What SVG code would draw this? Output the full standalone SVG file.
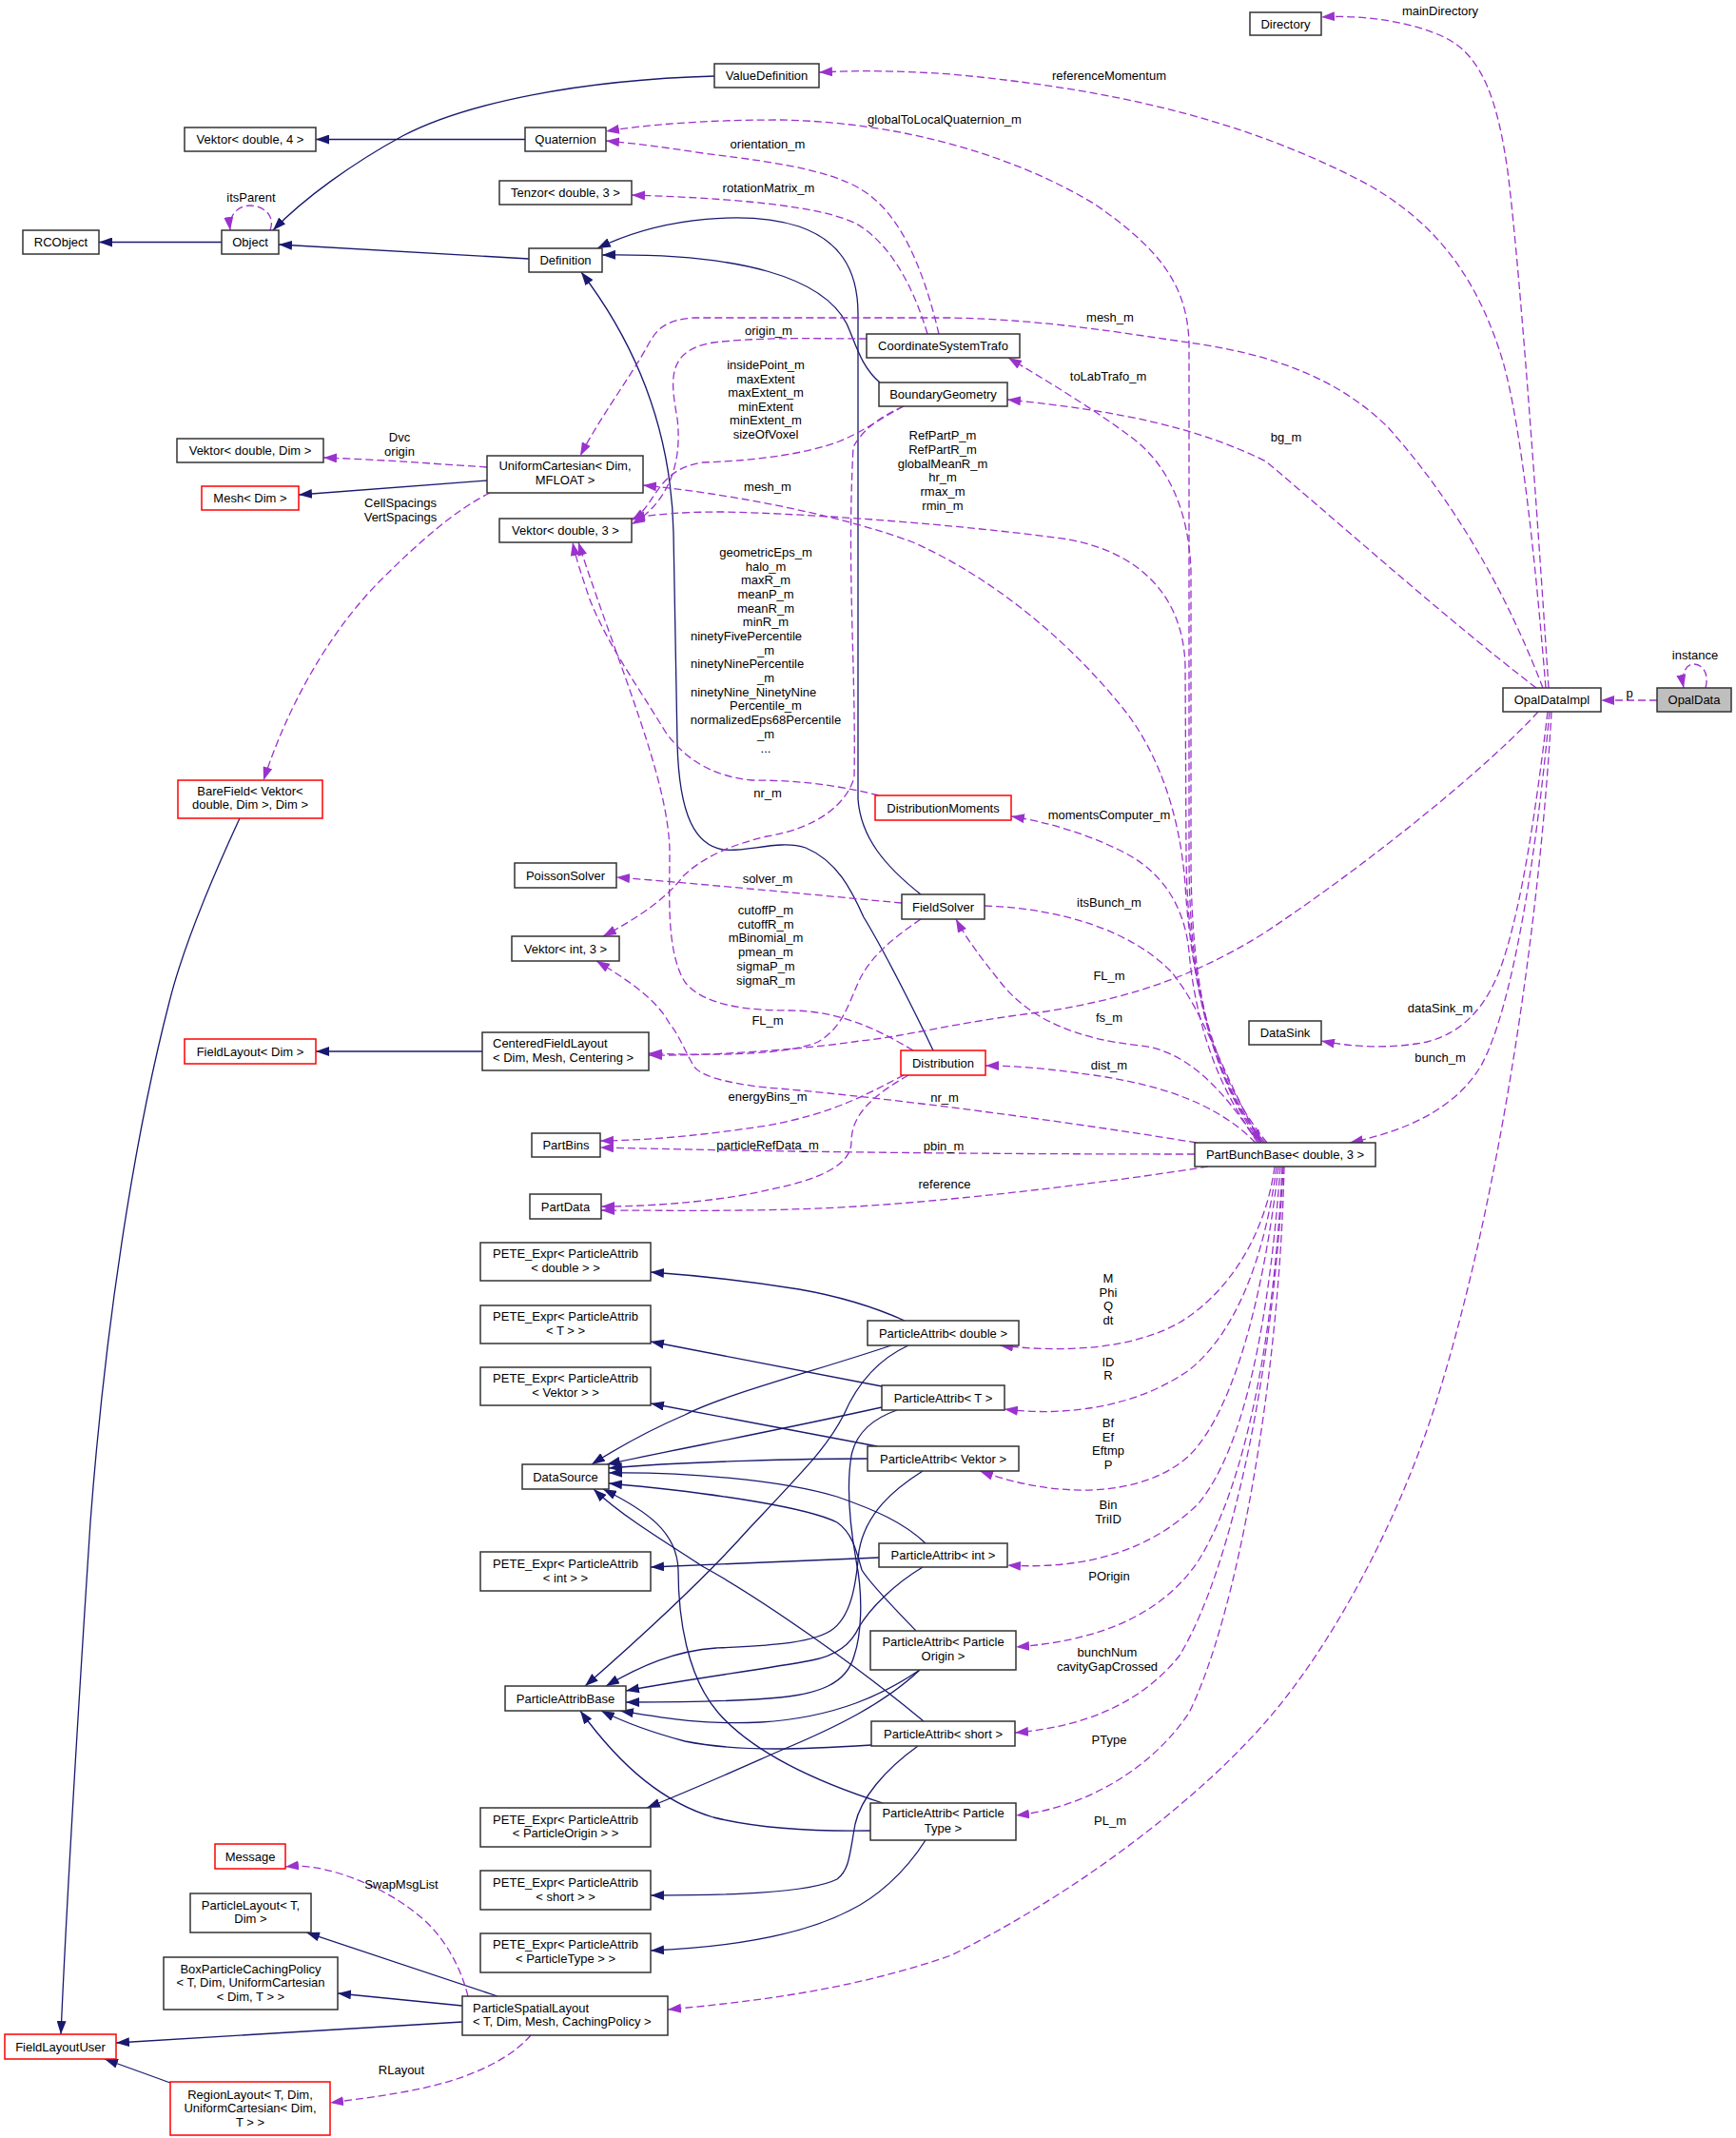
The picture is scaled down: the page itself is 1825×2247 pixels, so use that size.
<svg xmlns="http://www.w3.org/2000/svg" width="1825" height="2247" viewBox="0 0 1825 2247">
<style>
.n rect{fill:#fff;stroke:#333;stroke-width:1.5}
.n.r rect{stroke:#ff0000}
.n.g rect{fill:#bfbfbf}
text{font-family:"Liberation Sans",Arial,Helvetica,sans-serif;font-size:13px;fill:#000}
.c{text-anchor:middle}
.s{text-anchor:start}
.i{fill:none;stroke:#191970;stroke-width:1.3;marker-end:url(#an)}
.u{fill:none;stroke:#9a32cd;stroke-width:1.3;stroke-dasharray:8,4;marker-end:url(#ap)}
</style>
<defs>
<marker id="an" markerUnits="userSpaceOnUse" viewBox="0 0 14 10" markerWidth="14" markerHeight="10" refX="14" refY="5" orient="auto"><path d="M0,0 L14,5 L0,10 z" fill="#191970"/></marker>
<marker id="ap" markerUnits="userSpaceOnUse" viewBox="0 0 14 10" markerWidth="14" markerHeight="10" refX="14" refY="5" orient="auto"><path d="M0,0 L14,5 L0,10 z" fill="#9a32cd"/></marker>
</defs>
<rect width="1825" height="2247" fill="#fff"/>
<g id="edges">
<path class="i" d="M233,254.5 L104,254.5"/>
<path class="i" d="M751,80 C610,84 490,108 423,143 C370,172 320,208 287,242"/>
<path class="i" d="M552,146.5 L332,146.5"/>
<path class="i" d="M556,272 L293,257"/>
<path class="i" d="M925,402 C905,385 900,362 890,340 C865,292 780,266 633,268"/>
<path class="i" d="M968,940 C930,910 905,880 902,840 L902,330 C902,280 880,252 840,238 C790,222 700,226 628,261"/>
<path class="i" d="M981,1104 C965,1070 930,1000 908,964 C895,935 880,905 847,891 C820,882 785,896 760,893 C732,888 714,860 712,781 L708,560 C706,460 675,370 611,286"/>
<path class="i" d="M512,505 L314,520"/>
<path class="i" d="M507,1105 L332,1105"/>
<path class="i" d="M252,860 C215,940 190,1005 178,1053 C140,1200 110,1400 95,1600 C82,1800 70,2000 64,2138"/>
<path class="i" d="M951,1388 C920,1374 880,1362 840,1355 C790,1347 740,1341 684,1337"/>
<path class="i" d="M927,1457 L684,1410"/>
<path class="i" d="M922,1520 L684,1475"/>
<path class="i" d="M924,1637 L684,1647"/>
<path class="i" d="M967,1755 C930,1790 880,1815 820,1840 C770,1862 730,1880 680,1900"/>
<path class="i" d="M965,1835 C930,1860 905,1890 899,1917 C893,1950 893,1965 880,1975 C850,1990 760,1992 684,1992"/>
<path class="i" d="M973,1934 C950,1970 920,1995 893,2008 C860,2025 800,2045 684,2050"/>
<path class="i" d="M937,1414 C860,1440 760,1466 720,1487 C685,1502 655,1518 622,1539"/>
<path class="i" d="M927,1479 C850,1496 780,1510 740,1518 C700,1526 670,1532 638,1539"/>
<path class="i" d="M912,1533 C850,1533 720,1536 640,1543"/>
<path class="i" d="M973,1622 C950,1600 920,1587 880,1573 C820,1555 720,1547 640,1548"/>
<path class="i" d="M963,1714 C940,1690 915,1665 906,1650 C900,1628 895,1610 880,1600 C850,1585 760,1570 640,1559"/>
<path class="i" d="M971,1809 C900,1750 800,1680 740,1647 C690,1615 650,1590 624,1565"/>
<path class="i" d="M928,1895 C850,1870 790,1840 755,1800 C722,1762 713,1700 713,1650 C712,1610 680,1588 634,1565"/>
<path class="i" d="M955,1414 C920,1430 900,1457 887,1487 C870,1520 850,1540 787,1607 C740,1660 680,1715 615,1772"/>
<path class="i" d="M970,1546 C940,1565 910,1590 903,1630 C900,1665 895,1700 873,1714 C850,1728 800,1730 753,1732 C710,1735 675,1750 637,1772"/>
<path class="i" d="M970,1647 C940,1665 915,1690 903,1710 C895,1728 880,1740 853,1745 C800,1755 720,1765 658,1777"/>
<path class="i" d="M943,1482 C920,1490 900,1505 895,1530 C890,1560 893,1600 900,1640 C908,1680 905,1720 898,1740 C890,1770 860,1780 820,1784 C780,1788 720,1789 658,1789"/>
<path class="i" d="M967,1755 C930,1780 880,1805 800,1810 C740,1813 700,1806 652,1798"/>
<path class="i" d="M916,1834 C850,1838 780,1842 720,1830 C690,1822 660,1812 632,1798"/>
<path class="i" d="M915,1924 C850,1925 790,1920 750,1910 C700,1895 655,1860 610,1798"/>
<path class="i" d="M523,2098 L322,2031"/>
<path class="i" d="M486,2108 L355,2095"/>
<path class="i" d="M486,2125 L122,2147"/>
<path class="i" d="M179,2189 L110,2164"/>

<path class="u" d="M284,242 C290,226 276,216 263,216 C250,216 240,226 242,242"/>
<path class="u" d="M1793,723 C1797,708 1790,698 1781,698 C1772,698 1767,708 1770,723"/>
<path class="u" d="M1742,736 L1683,736"/>
<path class="u" d="M1628,723 C1620,600 1600,300 1585,180 C1575,110 1560,60 1520,40 C1490,25 1440,15 1389,18"/>
<path class="u" d="M1625,723 C1615,600 1600,450 1580,380 C1550,280 1500,230 1440,195 C1300,120 1150,92 1000,78 C940,74 900,74 861,76"/>
<path class="u" d="M1622,723 C1590,640 1540,540 1460,450 C1400,390 1320,370 1250,360 C1180,350 1100,336 1000,334 L730,334 C700,336 690,345 680,365 C660,400 630,440 610,479"/>
<path class="u" d="M1615,723 C1520,650 1420,560 1331,485 C1260,450 1180,432 1059,420"/>
<path class="u" d="M1617,748 C1570,800 1450,900 1330,980 C1250,1030 1180,1050 1100,1063 C1000,1075 950,1090 903,1094 C870,1100 760,1110 682,1109"/>
<path class="u" d="M1627,748 C1615,850 1600,950 1580,1010 C1565,1055 1540,1085 1500,1095 C1460,1103 1420,1100 1389,1094"/>
<path class="u" d="M1629,748 C1615,900 1590,1060 1557,1120 C1530,1165 1480,1188 1419,1201"/>
<path class="u" d="M1631,748 C1620,950 1580,1250 1510,1473 C1470,1600 1400,1730 1332,1808 C1270,1880 1150,1980 1000,2055 C900,2090 800,2103 702,2112"/>
<path class="u" d="M1330,1201 C1262,1120 1250,1000 1250,900 L1250,360 C1248,300 1220,262 1150,214 C1060,160 940,128 820,126 C740,126 680,131 637,138"/>
<path class="u" d="M987,351 C975,300 955,240 920,210 C890,182 830,172 739,161 C700,155 670,151 637,148"/>
<path class="u" d="M975,351 C960,300 935,255 900,235 C860,215 760,208 664,205"/>
<path class="u" d="M911,356 C860,356 800,354 750,360 C700,368 705,400 712,440 C718,490 700,530 664,551"/>
<path class="u" d="M950,427 C925,440 905,455 882,464 C850,476 800,484 739,486 C710,490 698,505 688,520 C680,532 675,540 664,547"/>
<path class="u" d="M1328,1201 C1262,1120 1252,1000 1252,900 L1252,600 C1250,540 1230,490 1190,460 C1150,430 1100,400 1060,376"/>
<path class="u" d="M1332,1201 C1265,1120 1248,1000 1247,900 L1246,700 C1244,620 1190,575 1110,565 C1010,552 860,540 760,538 C720,538 690,540 664,545"/>
<path class="u" d="M1326,1201 C1268,1130 1250,1000 1246,930 C1240,850 1215,790 1185,750 C1130,680 1050,610 960,570 C880,540 760,518 676,510"/>
<path class="u" d="M1324,1201 C1275,1140 1255,1060 1250,1000 C1245,950 1220,915 1180,895 C1140,875 1100,864 1063,858"/>
<path class="u" d="M1035,952 C1120,955 1190,980 1230,1020 C1265,1060 1285,1130 1326,1201"/>
<path class="u" d="M1322,1201 C1290,1150 1250,1105 1200,1099 C1130,1092 1080,1070 1050,1030 C1030,1005 1015,985 1005,966"/>
<path class="u" d="M1258,1201 C1100,1175 900,1150 806,1143 C760,1138 735,1130 729,1120 C718,1100 712,1085 704,1076 C690,1050 660,1030 627,1010"/>
<path class="u" d="M1320,1201 C1280,1160 1220,1140 1150,1130 C1100,1123 1070,1120 1036,1120"/>
<path class="u" d="M1256,1213 C1000,1213 800,1210 631,1206"/>
<path class="u" d="M1270,1226 C1150,1245 1000,1262 900,1268 C800,1274 700,1272 632,1272"/>
<path class="u" d="M950,1130 C920,1145 880,1170 806,1183 C740,1193 690,1198 631,1199"/>
<path class="u" d="M955,1130 C920,1150 895,1170 895,1200 C895,1225 860,1240 810,1250 C770,1260 700,1268 632,1268"/>
<path class="u" d="M948,949 C850,940 750,930 648,922"/>
<path class="u" d="M968,966 C940,985 915,1005 903,1031 C890,1060 885,1080 860,1095 C830,1108 760,1110 682,1107"/>
<path class="u" d="M950,427 C920,440 905,455 897,470 C890,600 900,700 898,817 C890,845 860,870 806,879 C760,890 735,905 719,920 C700,945 670,965 634,984"/>
<path class="u" d="M924,836 C880,825 840,820 790,820 C740,815 715,790 700,770 C670,720 640,680 620,630 C610,600 605,585 602,570"/>
<path class="u" d="M960,1104 C920,1080 880,1062 830,1062 C790,1062 740,1058 720,1032 C700,1000 704,940 704,897 C704,820 650,700 608,570"/>
<path class="u" d="M512,491 C450,487 400,483 340,481"/>
<path class="u" d="M515,518 C480,535 440,570 400,610 C360,650 310,720 277,820"/>
<path class="u" d="M1340,1226 C1330,1300 1290,1360 1240,1390 C1190,1418 1120,1422 1051,1414"/>
<path class="u" d="M1342,1226 C1330,1320 1300,1400 1250,1440 C1200,1475 1130,1490 1056,1481"/>
<path class="u" d="M1344,1226 C1330,1350 1300,1480 1250,1530 C1200,1575 1110,1575 1030,1546"/>
<path class="u" d="M1346,1226 C1335,1380 1310,1520 1260,1580 C1210,1630 1140,1650 1059,1645"/>
<path class="u" d="M1348,1226 C1340,1400 1310,1560 1260,1640 C1220,1700 1150,1725 1068,1731"/>
<path class="u" d="M1349,1226 C1340,1420 1300,1640 1240,1740 C1200,1790 1140,1815 1067,1821"/>
<path class="u" d="M1350,1226 C1345,1450 1300,1700 1250,1800 C1210,1860 1140,1900 1068,1908"/>
<path class="u" d="M492,2098 C485,2070 470,2040 446,2018 C420,1995 390,1980 360,1970 C335,1962 318,1960 300,1962"/>
<path class="u" d="M558,2139 C540,2160 510,2175 480,2185 C440,2198 400,2203 347,2210"/>

<text class="c" x="264" y="212">itsParent</text>
<text class="c" x="1782" y="693">instance</text>
<text class="c" x="1713" y="733">p</text>
<text class="c" x="1514" y="16">mainDirectory</text>
<text class="c" x="1166" y="84">referenceMomentum</text>
<text class="c" x="993" y="130">globalToLocalQuaternion_m</text>
<text class="c" x="807" y="156">orientation_m</text>
<text class="c" x="808" y="202">rotationMatrix_m</text>
<text class="c" x="1167" y="338">mesh_m</text>
<text class="c" x="808" y="352">origin_m</text>
<text class="c" x="805" y="388"><tspan x="805">insidePoint_m</tspan><tspan x="805" dy="14.6">maxExtent</tspan><tspan x="805" dy="14.6">maxExtent_m</tspan><tspan x="805" dy="14.6">minExtent</tspan><tspan x="805" dy="14.6">minExtent_m</tspan><tspan x="805" dy="14.6">sizeOfVoxel</tspan></text>
<text class="c" x="1165" y="400">toLabTrafo_m</text>
<text class="c" x="1352" y="464">bg_m</text>
<text class="c" x="991" y="462"><tspan x="991">RefPartP_m</tspan><tspan x="991" dy="14.8">RefPartR_m</tspan><tspan x="991" dy="14.8">globalMeanR_m</tspan><tspan x="991" dy="14.8">hr_m</tspan><tspan x="991" dy="14.8">rmax_m</tspan><tspan x="991" dy="14.8">rmin_m</tspan></text>
<text class="c" x="420" y="464"><tspan x="420">Dvc</tspan><tspan x="420" dy="14.5">origin</tspan></text>
<text class="c" x="807" y="516">mesh_m</text>
<text class="c" x="421" y="533"><tspan x="421">CellSpacings</tspan><tspan x="421" dy="15">VertSpacings</tspan></text>
<text class="c" x="805" y="585">geometricEps_m</text>
<text class="c" x="805" y="600">halo_m</text>
<text class="c" x="805" y="614">maxR_m</text>
<text class="c" x="805" y="629">meanP_m</text>
<text class="c" x="805" y="644">meanR_m</text>
<text class="c" x="805" y="658">minR_m</text>
<text class="s" x="726" y="673">ninetyFivePercentile</text>
<text class="c" x="805" y="688">_m</text>
<text class="s" x="726" y="702">ninetyNinePercentile</text>
<text class="c" x="805" y="717">_m</text>
<text class="s" x="726" y="732">ninetyNine_NinetyNine</text>
<text class="c" x="805" y="746">Percentile_m</text>
<text class="c" x="805" y="761">normalizedEps68Percentile</text>
<text class="c" x="805" y="776">_m</text>
<text class="c" x="805" y="791">...</text>
<text class="c" x="807" y="838">nr_m</text>
<text class="c" x="1166" y="861">momentsComputer_m</text>
<text class="c" x="807" y="928">solver_m</text>
<text class="c" x="1166" y="953">itsBunch_m</text>
<text class="c" x="805" y="961"><tspan x="805">cutoffP_m</tspan><tspan x="805" dy="14.7">cutoffR_m</tspan><tspan x="805" dy="14.7">mBinomial_m</tspan><tspan x="805" dy="14.7">pmean_m</tspan><tspan x="805" dy="14.7">sigmaP_m</tspan><tspan x="805" dy="14.7">sigmaR_m</tspan></text>
<text class="c" x="1166" y="1030">FL_m</text>
<text class="c" x="1166" y="1074">fs_m</text>
<text class="c" x="807" y="1077">FL_m</text>
<text class="c" x="1514" y="1064">dataSink_m</text>
<text class="c" x="1514" y="1116">bunch_m</text>
<text class="c" x="1166" y="1124">dist_m</text>
<text class="c" x="807" y="1157">energyBins_m</text>
<text class="c" x="993" y="1158">nr_m</text>
<text class="c" x="807" y="1208">particleRefData_m</text>
<text class="c" x="992" y="1209">pbin_m</text>
<text class="c" x="993" y="1249">reference</text>
<text class="c" x="1165" y="1348"><tspan x="1165">M</tspan><tspan x="1165" dy="14.6">Phi</tspan><tspan x="1165" dy="14.6">Q</tspan><tspan x="1165" dy="14.6">dt</tspan></text>
<text class="c" x="1165" y="1436"><tspan x="1165">ID</tspan><tspan x="1165" dy="14.3">R</tspan></text>
<text class="c" x="1165" y="1500"><tspan x="1165">Bf</tspan><tspan x="1165" dy="14.5">Ef</tspan><tspan x="1165" dy="14.5">Eftmp</tspan><tspan x="1165" dy="14.5">P</tspan></text>
<text class="c" x="1165" y="1586"><tspan x="1165">Bin</tspan><tspan x="1165" dy="15">TriID</tspan></text>
<text class="c" x="1166" y="1661">POrigin</text>
<text class="c" x="1164" y="1741"><tspan x="1164">bunchNum</tspan><tspan x="1164" dy="15.3">cavityGapCrossed</tspan></text>
<text class="c" x="1166" y="1833">PType</text>
<text class="c" x="1167" y="1918">PL_m</text>
<text class="c" x="422" y="1985">SwapMsgList</text>
<text class="c" x="422" y="2180">RLayout</text>
</g>

<g id="OpalData" class="n g"><rect x="1742" y="723" width="78" height="25"/><text class="c" x="1781" y="740">OpalData</text></g>
<g id="OpalDataImpl" class="n"><rect x="1580" y="723" width="103" height="25"/><text class="c" x="1631.5" y="740">OpalDataImpl</text></g>
<g id="Directory" class="n"><rect x="1314" y="13" width="75" height="24"/><text class="c" x="1351.5" y="29.5">Directory</text></g>
<g id="ValueDefinition" class="n"><rect x="751" y="67" width="110" height="25"/><text class="c" x="806" y="84">ValueDefinition</text></g>
<g id="VektorDouble4" class="n"><rect x="194" y="134" width="138" height="25"/><text class="c" x="263" y="151">Vektor&lt; double, 4 &gt;</text></g>
<g id="Quaternion" class="n"><rect x="552" y="134" width="85" height="25"/><text class="c" x="594.5" y="151">Quaternion</text></g>
<g id="TenzorDouble3" class="n"><rect x="525" y="190" width="139" height="25"/><text class="c" x="594.5" y="207">Tenzor&lt; double, 3 &gt;</text></g>
<g id="RCObject" class="n"><rect x="24" y="242" width="80" height="25"/><text class="c" x="64" y="259">RCObject</text></g>
<g id="Object" class="n"><rect x="233" y="242" width="60" height="25"/><text class="c" x="263" y="259">Object</text></g>
<g id="Definition" class="n"><rect x="556" y="261" width="77" height="25"/><text class="c" x="594.5" y="278">Definition</text></g>
<g id="CoordinateSystemTrafo" class="n"><rect x="911" y="351" width="161" height="25"/><text class="c" x="991.5" y="368">CoordinateSystemTrafo</text></g>
<g id="BoundaryGeometry" class="n"><rect x="924" y="402" width="135" height="25"/><text class="c" x="991.5" y="419">BoundaryGeometry</text></g>
<g id="VektorDoubleDim" class="n"><rect x="186" y="461" width="154" height="25"/><text class="c" x="263" y="478">Vektor&lt; double, Dim &gt;</text></g>
<g id="UniformCartesian" class="n"><rect x="512" y="479" width="164" height="39"/><text class="c" x="594" y="494">UniformCartesian&lt; Dim,</text><text class="c" x="594" y="509">MFLOAT &gt;</text></g>
<g id="MeshDim" class="n r"><rect x="212" y="511" width="102" height="25"/><text class="c" x="263" y="528">Mesh&lt; Dim &gt;</text></g>
<g id="VektorDouble3" class="n"><rect x="525" y="545" width="139" height="25"/><text class="c" x="594.5" y="562">Vektor&lt; double, 3 &gt;</text></g>
<g id="BareField" class="n r"><rect x="187" y="820" width="152" height="40"/><text class="c" x="263" y="835.5">BareField&lt; Vektor&lt;</text><text class="c" x="263" y="850">double, Dim &gt;, Dim &gt;</text></g>
<g id="DistributionMoments" class="n r"><rect x="920" y="836" width="143" height="26"/><text class="c" x="991.5" y="853.5">DistributionMoments</text></g>
<g id="PoissonSolver" class="n"><rect x="541" y="907" width="107" height="26"/><text class="c" x="594.5" y="924.5">PoissonSolver</text></g>
<g id="FieldSolver" class="n"><rect x="948" y="940" width="87" height="26"/><text class="c" x="991.5" y="957.5">FieldSolver</text></g>
<g id="VektorInt3" class="n"><rect x="538" y="984" width="113" height="26"/><text class="c" x="594.5" y="1001.5">Vektor&lt; int, 3 &gt;</text></g>
<g id="DataSink" class="n"><rect x="1313" y="1073" width="76" height="25"/><text class="c" x="1351" y="1090">DataSink</text></g>
<g id="FieldLayoutDim" class="n r"><rect x="194" y="1092" width="138" height="26"/><text class="c" x="263" y="1109.5">FieldLayout&lt; Dim &gt;</text></g>
<g id="CenteredFieldLayout" class="n"><rect x="507" y="1085" width="175" height="40"/><text class="s" x="518" y="1101">CenteredFieldLayout</text><text class="s" x="518" y="1116">&lt; Dim, Mesh, Centering &gt;</text></g>
<g id="Distribution" class="n r"><rect x="947" y="1104" width="89" height="26"/><text class="c" x="991.5" y="1121.5">Distribution</text></g>
<g id="PartBins" class="n"><rect x="559" y="1191" width="72" height="25"/><text class="c" x="595" y="1208">PartBins</text></g>
<g id="PartBunchBase" class="n"><rect x="1256" y="1201" width="190" height="25"/><text class="c" x="1351" y="1218">PartBunchBase&lt; double, 3 &gt;</text></g>
<g id="PartData" class="n"><rect x="557" y="1255" width="75" height="26"/><text class="c" x="594.5" y="1272.5">PartData</text></g>
<g id="PETE_double" class="n"><rect x="505" y="1306" width="179" height="40"/><text class="c" x="594.5" y="1322">PETE_Expr&lt; ParticleAttrib</text><text class="c" x="594.5" y="1337">&lt; double &gt; &gt;</text></g>
<g id="PA_double" class="n"><rect x="912" y="1388" width="159" height="26"/><text class="c" x="991.5" y="1405.5">ParticleAttrib&lt; double &gt;</text></g>
<g id="PETE_T" class="n"><rect x="505" y="1372" width="179" height="40"/><text class="c" x="594.5" y="1388">PETE_Expr&lt; ParticleAttrib</text><text class="c" x="594.5" y="1402.5">&lt; T &gt; &gt;</text></g>
<g id="PETE_Vektor" class="n"><rect x="505" y="1437" width="179" height="40"/><text class="c" x="594.5" y="1453">PETE_Expr&lt; ParticleAttrib</text><text class="c" x="594.5" y="1468">&lt; Vektor &gt; &gt;</text></g>
<g id="PA_T" class="n"><rect x="927" y="1456" width="129" height="26"/><text class="c" x="991.5" y="1473.5">ParticleAttrib&lt; T &gt;</text></g>
<g id="PA_Vektor" class="n"><rect x="912" y="1520" width="159" height="26"/><text class="c" x="991.5" y="1537.5">ParticleAttrib&lt; Vektor &gt;</text></g>
<g id="DataSource" class="n"><rect x="549" y="1539" width="91" height="26"/><text class="c" x="594.5" y="1556.5">DataSource</text></g>
<g id="PA_int" class="n"><rect x="924" y="1622" width="135" height="25"/><text class="c" x="991.5" y="1639">ParticleAttrib&lt; int &gt;</text></g>
<g id="PETE_int" class="n"><rect x="505" y="1631" width="179" height="41"/><text class="c" x="594.5" y="1647.5">PETE_Expr&lt; ParticleAttrib</text><text class="c" x="594.5" y="1662.5">&lt; int &gt; &gt;</text></g>
<g id="PA_ParticleOrigin" class="n"><rect x="915" y="1714" width="153" height="41"/><text class="c" x="991.5" y="1730">ParticleAttrib&lt; Particle</text><text class="c" x="991.5" y="1745">Origin &gt;</text></g>
<g id="ParticleAttribBase" class="n"><rect x="531" y="1772" width="127" height="26"/><text class="c" x="594.5" y="1789.5">ParticleAttribBase</text></g>
<g id="PA_short" class="n"><rect x="916" y="1809" width="151" height="26"/><text class="c" x="991.5" y="1826.5">ParticleAttrib&lt; short &gt;</text></g>
<g id="PA_ParticleType" class="n"><rect x="915" y="1895" width="153" height="39"/><text class="c" x="991.5" y="1910">ParticleAttrib&lt; Particle</text><text class="c" x="991.5" y="1925.5">Type &gt;</text></g>
<g id="PETE_ParticleOrigin" class="n"><rect x="505" y="1900" width="179" height="41"/><text class="c" x="594.5" y="1916.5">PETE_Expr&lt; ParticleAttrib</text><text class="c" x="594.5" y="1931">&lt; ParticleOrigin &gt; &gt;</text></g>
<g id="Message" class="n r"><rect x="226" y="1938" width="74" height="26"/><text class="c" x="263" y="1955.5">Message</text></g>
<g id="PETE_short" class="n"><rect x="505" y="1966" width="179" height="41"/><text class="c" x="594.5" y="1982.5">PETE_Expr&lt; ParticleAttrib</text><text class="c" x="594.5" y="1997.5">&lt; short &gt; &gt;</text></g>
<g id="ParticleLayout" class="n"><rect x="200" y="1990" width="127" height="41"/><text class="c" x="263.5" y="2006.5">ParticleLayout&lt; T,</text><text class="c" x="263.5" y="2021">Dim &gt;</text></g>
<g id="PETE_ParticleType" class="n"><rect x="505" y="2032" width="179" height="41"/><text class="c" x="594.5" y="2048">PETE_Expr&lt; ParticleAttrib</text><text class="c" x="594.5" y="2063">&lt; ParticleType &gt; &gt;</text></g>
<g id="BoxParticleCachingPolicy" class="n"><rect x="172" y="2057" width="183" height="55"/><text class="c" x="263.5" y="2073.5">BoxParticleCachingPolicy</text><text class="c" x="263.5" y="2088">&lt; T, Dim, UniformCartesian</text><text class="c" x="263.5" y="2102.5">&lt; Dim, T &gt; &gt;</text></g>
<g id="ParticleSpatialLayout" class="n"><rect x="486" y="2098" width="216" height="41"/><text class="s" x="497" y="2114.5">ParticleSpatialLayout</text><text class="s" x="497" y="2129">&lt; T, Dim, Mesh, CachingPolicy &gt;</text></g>
<g id="FieldLayoutUser" class="n r"><rect x="5" y="2138" width="117" height="26"/><text class="c" x="63.5" y="2155.5">FieldLayoutUser</text></g>
<g id="RegionLayout" class="n r"><rect x="179" y="2188" width="168" height="56"/><text class="c" x="263" y="2205.5">RegionLayout&lt; T, Dim,</text><text class="c" x="263" y="2219.5">UniformCartesian&lt; Dim,</text><text class="c" x="263" y="2234.5">T &gt; &gt;</text></g>
</svg>
